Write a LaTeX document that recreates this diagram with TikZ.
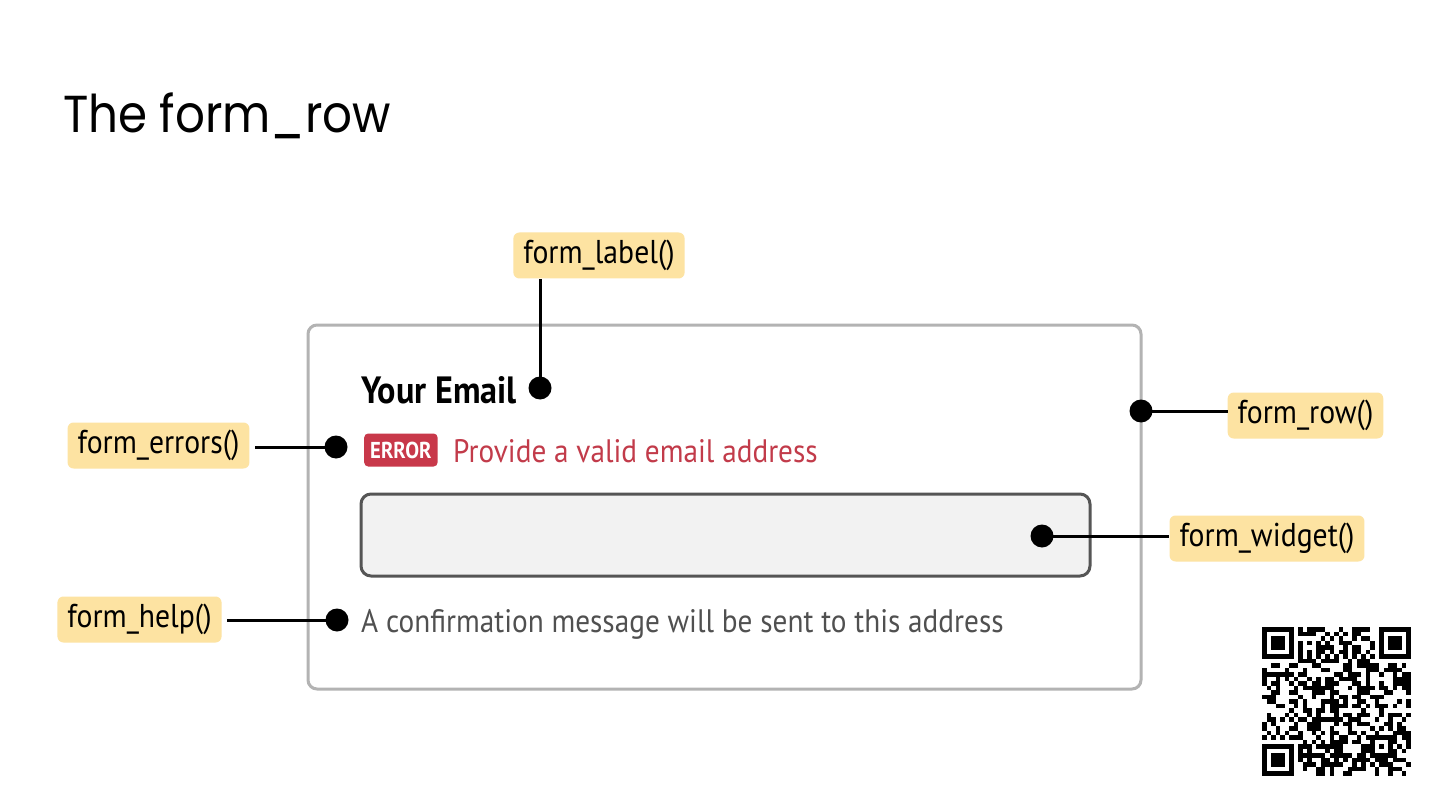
\documentclass[tikz,border=0pt]{standalone}
\usepackage{fontspec}
\newfontfamily\lblfont[FakeStretch=0.9]{PT Sans}
\newfontfamily\titlefont[FakeStretch=0.9]{Poppins}
\definecolor{lblfill}{HTML}{FDE3A2}
\definecolor{errred}{HTML}{C23B4A}
\definecolor{badgered}{HTML}{C8384A}
\definecolor{helpgray}{HTML}{505050}
\definecolor{boxgray}{HTML}{B3B3B3}
\definecolor{inputfill}{HTML}{F2F2F2}
\definecolor{inputborder}{HTML}{555555}
\tikzset{
  tag/.style={fill=lblfill, rounded corners=6pt, inner xsep=10pt, inner ysep=0pt,
    minimum height=46pt, text=black, font=\lblfont\fontsize{33}{33}\selectfont},
  pin/.style={circle, fill=black, inner sep=0pt, minimum size=23pt},
  conn/.style={line width=3pt, black},
  qrmod/.style={fill=black}
}
\begin{document}
\begin{tikzpicture}[x=1pt,y=-1pt]
\useasboundingbox (0,0) rectangle (1440,810);
\fill[white] (0,0) rectangle (1440,810);
% title
\node[anchor=base west, inner sep=0pt, font=\titlefont\fontsize{52}{52}\selectfont] (title) at (63,133) {The form\_row};
% outer form row box
\draw[boxgray, line width=3pt, rounded corners=9pt] (308,325) rectangle (1141,689);
% label
\node[anchor=base west, inner sep=0pt, font=\lblfont\bfseries\fontsize{38}{38}\selectfont] (yourmail) at (361,403) {Your Email};
% error
\node[anchor=west, fill=badgered, rounded corners=4pt, text=white, inner xsep=6pt, minimum height=33pt, inner ysep=0pt,
  font=\lblfont\bfseries\fontsize{23}{23}\selectfont] (badge) at (364,450) {ERROR};
\node[anchor=base west, inner sep=0pt, text=errred, font=\lblfont\fontsize{32.5}{33}\selectfont] (errtext) at (453,462) {Provide a valid email address};
% input
\draw[inputborder, fill=inputfill, line width=3pt, rounded corners=10pt] (361,494) rectangle (1090,576);
% help
\node[anchor=base west, inner sep=0pt, text=helpgray, font=\lblfont\fontsize{32.5}{33}\selectfont] (helptext) at (361,632) {A confirmation message will be sent to this address};
% tags
\node[tag] (lLabel) at (599,255.5) {form\_label()};
\node[tag] (lErrors) at (158.5,445.5) {form\_errors()};
\node[tag] (lHelp) at (139.5,619.5) {form\_help()};
\node[tag] (lRow) at (1305.5,415.5) {form\_row()};
\node[tag] (lWidget) at (1267,538.5) {form\_widget()};
% pins
\node[pin] (pLabel) at (540,388) {};
\node[pin] (pErrors) at (336,447) {};
\node[pin] (pHelp) at (337,620) {};
\node[pin] (pRow) at (1141,411) {};
\node[pin] (pWidget) at (1042,536) {};
% connectors
\draw[conn] (pLabel.center) -- (pLabel.center |- lLabel.south);
\draw[conn] (pErrors.center) -- ([xshift=5pt]pErrors.center -| lErrors.east);
\draw[conn] (pHelp.center) -- ([xshift=5pt]pHelp.center -| lHelp.east);
\draw[conn] (pRow.center) -- (pRow.center -| lRow.west);
\draw[conn] (pWidget.center) -- (pWidget.center -| lWidget.west);
% QR code
\begin{scope}[shift={(1262,627)}, x=4.5pt, y=-4.5pt]
  \pgfmathsetseed{1234}
  \foreach \ox/\oy in {0/0, 26/0, 0/26}{
    \fill[black] (\ox,\oy) rectangle ++(7,7);
    \fill[white] (\ox+1,\oy+1) rectangle ++(5,5);
    \fill[black] (\ox+2,\oy+2) rectangle ++(3,3);
  }
  \fill[black] (24,24) rectangle ++(5,5);
  \fill[white] (25,25) rectangle ++(3,3);
  \fill[black] (26,26) rectangle ++(1,1);
  \foreach \i in {0,...,32}{
    \foreach \j in {0,...,32}{
      \pgfmathtruncatemacro{\skipit}{((\i<8)&&(\j<8)) || ((\i>24)&&(\j<8)) || ((\i<8)&&(\j>24)) || ((\i>23)&&(\i<29)&&(\j>23)&&(\j<29)) ? 1 : 0}
      \ifnum\skipit=0
        \pgfmathrandominteger{\r}{0}{1}
        \ifnum\i=6 \pgfmathtruncatemacro{\r}{mod(\j+1,2)}\fi
        \ifnum\j=6 \pgfmathtruncatemacro{\r}{mod(\i+1,2)}\fi
        \ifnum\r=1 \fill[qrmod] (\i,\j) rectangle ++(1.02,1.02);\fi
      \fi
    }
  }
\end{scope}
\end{tikzpicture}
\end{document}
